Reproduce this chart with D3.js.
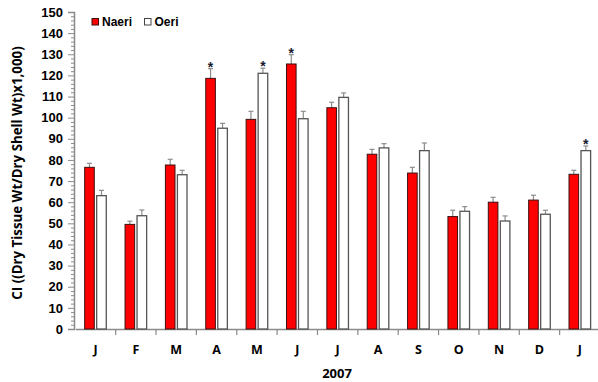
<!DOCTYPE html>
<html>
<head>
<meta charset="utf-8">
<script src="https://cdn.jsdelivr.net/npm/d3@7/dist/d3.min.js"></script>
<style>
  html, body { margin: 0; padding: 0; background: #fff; }
  svg { display: block; font-family: "Liberation Sans", Arial, sans-serif; }
</style>
</head>
<body>
<svg id="chart" width="598" height="382"></svg>
<script>
// Monthly condition index for the two sites, 2007 (Jan 2007 – Jan 2008)
const months = ["J", "F", "M", "A", "M", "J", "J", "A", "S", "O", "N", "D", "J"];
const naeri    = [76.5, 49.5, 77.6, 118.6, 99.2, 125.4, 104.7, 82.7, 73.8, 53.2, 60.0, 61.0, 73.2];
const naeriErr = [1.9, 1.5, 2.7, 4.6, 3.8, 4.4, 2.6, 2.3, 2.7, 3.0, 2.3, 2.3, 1.9];
const oeri     = [63.1, 53.6, 73.0, 95.0, 121.0, 99.5, 109.6, 85.7, 84.4, 55.7, 51.1, 54.3, 84.4];
const oeriErr  = [2.5, 2.7, 2.1, 2.3, 2.4, 3.5, 2.1, 2.0, 3.6, 2.2, 2.4, 1.9, 2.2];
// significance markers: which series is flagged in which month
const naeriSig = [false, false, false, true, false, true, false, false, false, false, false, false, false];
const oeriSig  = [false, false, false, false, true, false, false, false, false, false, false, false, true];
const yTicks = d3.range(0, 151, 10);
const seriesNames = ["Naeri", "Oeri"];

const svg = d3.select("#chart");
const x0 = 75.3, x1 = 600, yTop = 12, yBot = 329;
const titleFont = "'Open Sans', 'Liberation Sans', Arial, sans-serif";

const idx = months.map((_, i) => i);
const x = d3.scaleBand().domain(idx).range([x0, x1]).paddingInner(0).paddingOuter(0);
const y = d3.scaleLinear().domain([0, 150]).range([yBot, yTop]);

const barW = 9.6, gap = 2.4;
const axisColor = "#8a8a8a";

// minor y ticks
svg.append("g")
  .selectAll("line")
  .data(d3.range(0, 151, 2).filter(v => v % 10 !== 0))
  .join("line")
  .attr("x1", x0 - 1.3).attr("x2", x0 - 4.3)
  .attr("y1", d => y(d) + 0.5).attr("y2", d => y(d) + 0.5)
  .attr("stroke", axisColor).attr("stroke-width", 1);

// y axis
const yAxis = svg.append("g")
  .attr("transform", `translate(${x0 - 1.3},0)`)
  .call(d3.axisLeft(y).tickValues(yTicks).tickSize(6).tickPadding(5).tickFormat(d3.format("d")));
yAxis.select(".domain").attr("stroke", axisColor).attr("stroke-width", 1.5);
yAxis.selectAll(".tick line").attr("stroke", axisColor);
yAxis.selectAll("text").attr("font-size", 13).attr("font-weight", "bold").attr("fill", "#000")
  .attr("font-family", "Liberation Sans, Arial, sans-serif");

// x axis
const xAxis = svg.append("g")
  .attr("transform", `translate(0,${yBot})`)
  .call(d3.axisBottom(x).tickSize(0).tickPadding(16).tickFormat(i => months[i]));
xAxis.select(".domain").attr("stroke", axisColor).attr("stroke-width", 1.5);
xAxis.selectAll("text").attr("font-size", 12.5).attr("font-weight", "bold").attr("fill", "#000")
  .attr("font-family", titleFont);
// boundary tick marks between months
svg.append("g").selectAll("line")
  .data(idx.slice(1).concat([13]))
  .join("line")
  .attr("x1", i => (i < 13 ? x(i) : x1)).attr("x2", i => (i < 13 ? x(i) : x1))
  .attr("y1", yBot).attr("y2", yBot + 6)
  .attr("stroke", axisColor).attr("stroke-width", 1.2);

const cx = i => x(i) + x.bandwidth() / 2;
const nx = i => cx(i) - gap / 2 - barW;
const ox = i => cx(i) + gap / 2;

// error bars
function errorBars(vals, errs, xs, color) {
  const g = svg.append("g").attr("stroke", color).attr("stroke-width", 1.2).attr("fill", "none");
  idx.forEach(i => {
    const mx = xs(i) + barW / 2;
    g.append("line").attr("x1", mx).attr("x2", mx).attr("y1", y(vals[i])).attr("y2", y(vals[i] + errs[i]));
    g.append("line").attr("x1", mx - 2.5).attr("x2", mx + 2.5).attr("y1", y(vals[i] + errs[i])).attr("y2", y(vals[i] + errs[i]));
  });
}
errorBars(naeri, naeriErr, nx, "#8c8c8c");
errorBars(oeri, oeriErr, ox, "#8c8c8c");

// bars
svg.append("g").selectAll("rect").data(idx).join("rect")
  .attr("x", i => nx(i)).attr("y", i => y(naeri[i]))
  .attr("width", barW).attr("height", i => yBot - y(naeri[i]))
  .attr("fill", "#ff0000").attr("stroke", "#3a1010").attr("stroke-width", 1);
svg.append("g").selectAll("rect").data(idx).join("rect")
  .attr("x", i => ox(i)).attr("y", i => y(oeri[i]))
  .attr("width", barW).attr("height", i => yBot - y(oeri[i]))
  .attr("fill", "#ffffff").attr("stroke", "#555").attr("stroke-width", 1.3);

// significance asterisks
function stars(vals, errs, sig, xs) {
  svg.append("g").selectAll("text").data(idx.filter(i => sig[i])).join("text")
    .attr("x", i => xs(i) + barW / 2)
    .attr("y", i => y(vals[i] + errs[i]) + 3)
    .attr("text-anchor", "middle").attr("font-size", 14).attr("font-weight", "bold")
    .attr("fill", "#1a1a2e").text("*");
}
stars(naeri, naeriErr, naeriSig, nx);
stars(oeri, oeriErr, oeriSig, ox);

// legend
const legend = svg.append("g").attr("transform", "translate(91.5,18)");
seriesNames.forEach((name, k) => {
  const lx = k * 52.5;
  legend.append("rect").attr("x", lx + 0.5).attr("y", 0.5).attr("width", 6.5).attr("height", 6.5)
    .attr("fill", k === 0 ? "#ff0000" : "#fff").attr("stroke", k === 0 ? "#3a1010" : "#444").attr("stroke-width", 1);
  legend.append("text").attr("x", lx + 10.5).attr("y", 7.5)
    .attr("font-size", 12).attr("font-weight", "bold").attr("fill", "#000").text(name);
});

// axis titles
svg.append("text")
  .attr("transform", `translate(22,173) rotate(-90)`)
  .attr("text-anchor", "middle").attr("font-size", 13.3).attr("font-weight", "bold").attr("fill", "#000")
  .attr("font-family", titleFont)
  .text("CI ((Dry Tissue Wt/Dry Shell Wt)x1,000)");
svg.append("text")
  .attr("x", 337).attr("y", 378)
  .attr("text-anchor", "middle").attr("font-size", 13).attr("font-weight", "bold").attr("fill", "#000")
  .attr("font-family", titleFont)
  .text("2007");
</script>
</body>
</html>
